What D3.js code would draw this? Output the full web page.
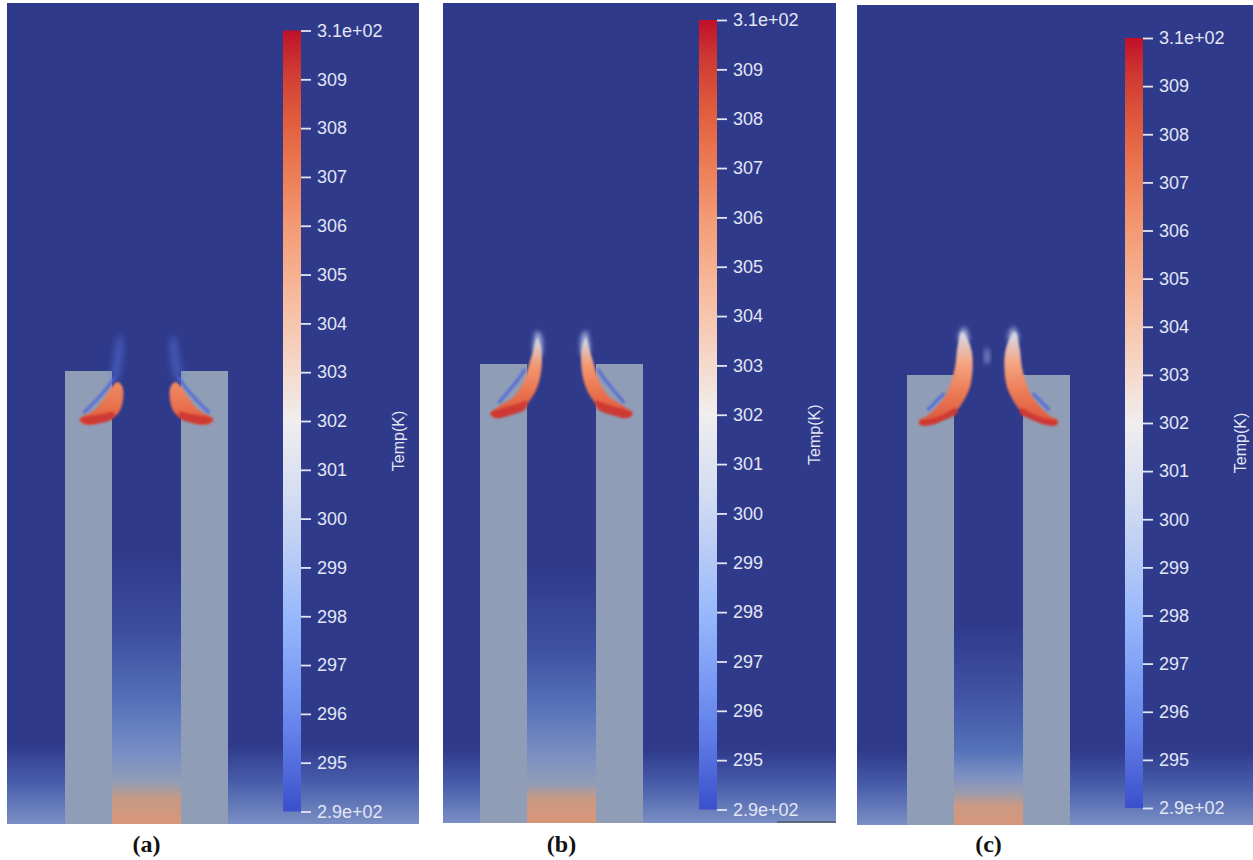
<!DOCTYPE html>
<html>
<head>
<meta charset="utf-8">
<script src="https://cdn.jsdelivr.net/npm/d3@7"></script>
<style>
  body { margin: 0; background: #ffffff; }
  svg { display: block; }
  .tick-label { font-family: "Liberation Sans", Arial, sans-serif; font-size: 18px; fill: #e2e6f4; }
  .bar-title { font-family: "Liberation Sans", Arial, sans-serif; font-size: 16px; fill: #e2e6f4; }
  .panel-label { font-family: "Liberation Serif", "DejaVu Serif", serif; font-weight: bold; font-size: 24px; fill: #111; }
</style>
</head>
<body>
<svg id="fig" width="1253" height="860"></svg>
<script>
"use strict"

// ---- data ----
const panelLabels = ["(a)", "(b)", "(c)"];
const tempRange = [294.0, 310.0];          // colour bar min / max (K)
const tickValues = d3.range(295, 310);     // 295 ... 309
const barTitle = "Temp(K)";

// the two columns, x in px-sized units from the middle of the gap
const columns = [[-81.5, -34.5], [34.5, 81.5]];

// vertical temperature profiles, [height relative to column top, temp]
const gapProfiles = [
    [[-185, 294.0], [-260, 295.3], [-330, 297.0], [-385, 299.0], [-410, 302.0], [-428, 305.0], [-453, 306.3]],
    [[-205, 294.0], [-285, 295.5], [-340, 297.0], [-395, 299.5], [-420, 302.0], [-434, 305.0], [-459, 306.3]],
    [[-250, 294.0], [-320, 295.6], [-375, 297.0], [-402, 299.5], [-418, 302.5], [-430, 305.2], [-450, 306.0]]
];
const bandProfiles = [
    [[-374, 294.0], [-410, 296.0], [-453, 299.0]],
    [[-385, 294.0], [-420, 296.0], [-459, 299.0]],
    [[-375, 294.0], [-410, 296.0], [-450, 299.0]]
];
const columnTemp = 302.0;

// left-hand plume outlines (right-hand one is the mirror image)
const plumeBodies = [
    [[-65, -47], [-52, -39], [-42, -27], [-35, -16], [-29, -11], [-24, -16], [-24, -32], [-29, -43], [-40, -49], [-54, -53], [-65, -52]],
    [[-24.5, 26], [-21, 18], [-19.5, 4], [-22, -16], [-28, -31], [-38, -43], [-51, -49], [-66, -53], [-71, -50],
     [-62, -42], [-48, -33], [-38, -18], [-32, 1], [-27, 18]],
    [[-26.5, 43], [-20.5, 35], [-16.5, 22], [-16, 5], [-18.5, -12], [-24.5, -25], [-31.5, -35], [-43.5, -43], [-58.5, -49],
     [-68, -49], [-69, -45], [-61.5, -41], [-44, -22], [-34, 5], [-31.5, 25], [-29, 38]]
];
const plumeBodyTemps = [
    [306.6, 307.3, 308.3],
    [300.5, 306.0, 307.3, 308.4],
    [300.5, 305.5, 307.2, 308.4]
];
const plumeCores = [
    [[-67, -48], [-57, -45], [-43, -43], [-33, -41], [-33, -47], [-46, -52], [-60, -53]],
    [[-71, -49], [-58, -44], [-44, -40], [-34, -37], [-36, -45], [-50, -51], [-66, -54]],
    [[-69, -46], [-58, -44], [-44, -39], [-33, -33], [-31, -38], [-44, -45], [-58, -50], [-68, -50]]
];
const coreTemp = 309.3;
const plumeStreaks = [
    [[-62, -41], [-52, -31], [-42, -20], [-32, -7]],
    [[-62, -38], [-52, -26], [-43, -15], [-37, -6]],
    [[-60, -34], [-52, -26], [-45, -19]]
];
const streakTemp = 294.8;
const plumeWisps = [
    [[-35, -6], [-33, 12], [-30, 30], [-26, 36], [-23, 24], [-25, 6], [-28, -8]],
    [[-28, 14], [-27, 26], [-25, 33], [-21, 30], [-19, 18], [-21, 8]],
    [[-30, 36], [-28, 44], [-25, 48], [-21, 43], [-20, 34]]
];
const wispTemps = [295.4, 300.2, 300.2];
// small lone wisp on the axis in (c)
const centreWisps = [[], [], [[-3, 12], [-3.5, 22], [-1.5, 28], [0.5, 22], [0, 12]]];

// ---- layout (pixels) ----
const panelLayout = [
    {x0: 7,   x1: 419,  y0: 3, y1: 824, cx: 146.5, top: 371, bar: {x: 283,  top: 30.5, bottom: 811.5}},
    {x0: 443, x1: 836,  y0: 3, y1: 823, cx: 561.5, top: 364, bar: {x: 699,  top: 20,   bottom: 809.5}},
    {x0: 857, x1: 1253, y0: 5, y1: 825, cx: 988.5, top: 375, bar: {x: 1125, top: 38,   bottom: 808}}
];
const barWidth = 18;
const labelBaseline = 852;
const wispOpacity = [0.45, 0.75, 0.75];

// rendered field colours (the 3-D view is shaded darker than the bar)
const fieldColor = d3.scaleLinear()
    .domain([294, 295.5, 297, 299, 302, 304.5, 306.5])
    .range(["#2f3a8b", "#3f51a2", "#5571b9", "#7a8fc4", "#909db6", "#c09a8a", "#dc9676"])
    .interpolate(d3.interpolateLab)
    .clamp(true);

// colour bar map (cool to warm)
const barColor = d3.scaleLinear()
    .domain([294, 296, 298, 300, 302, 304, 306, 308, 310])
    .range(["#3a50cc", "#6a8df0", "#98b8fc", "#cbd8f2", "#f0eeee", "#f7c6ac", "#f39a74", "#e4623f", "#c0102a"])
    .interpolate(d3.interpolateLab)
    .clamp(true);

function sciLabel(v) {
    const [m, e] = d3.format(".1e")(v).split("e");
    return `${m}e${e[0]}${e.slice(1).padStart(2, "0")}`;
}

const svg = d3.select("#fig");
const defs = svg.append("defs");

[["soft", 1.2], ["haze", 2.4], ["mist", 3.2]].forEach(([id, s]) => {
    defs.append("filter")
        .attr("id", id)
        .attr("x", "-50%").attr("y", "-50%")
        .attr("width", "200%").attr("height", "200%")
        .append("feGaussianBlur")
        .attr("stdDeviation", s);
});

const closedLine = d3.line().curve(d3.curveCatmullRomClosed.alpha(0.5));
const openLine = d3.line().curve(d3.curveCatmullRom.alpha(0.5));
const mirror = pts => pts.map(([x, y]) => [-x, y]);

function verticalGradient(id, profile, yScale) {
    const y1 = yScale(profile[0][0]);
    const y2 = yScale(profile[profile.length - 1][0]);
    const g = defs.append("linearGradient")
        .attr("id", id)
        .attr("gradientUnits", "userSpaceOnUse")
        .attr("x1", 0).attr("x2", 0)
        .attr("y1", y1).attr("y2", y2);
    g.selectAll("stop")
        .data(profile)
        .enter().append("stop")
            .attr("offset", d => (yScale(d[0]) - y1) / (y2 - y1))
            .attr("stop-color", d => fieldColor(d[1]));
    return y1;
}

panelLayout.forEach((p, i) => {
    // scales: field units are ~1px, origin at gap centre / column top
    const xScale = d3.scaleLinear().domain([0, 100]).range([p.cx, p.cx + 100]);
    const yScale = d3.scaleLinear().domain([0, 100]).range([p.top, p.top - 100]);
    const toPx = pts => pts.map(([x, y]) => [xScale(x), yScale(y)]);

    defs.append("clipPath").attr("id", `clip${i}`)
        .append("rect")
        .attr("x", p.x0).attr("y", p.y0)
        .attr("width", p.x1 - p.x0).attr("height", p.y1 - p.y0);

    const panel = svg.append("g").attr("clip-path", `url(#clip${i})`);

    // background
    panel.append("rect")
        .attr("x", p.x0).attr("y", p.y0)
        .attr("width", p.x1 - p.x0).attr("height", p.y1 - p.y0)
        .attr("fill", fieldColor(tempRange[0]));

    // warm band along the floor
    const bandTop = verticalGradient(`band${i}`, bandProfiles[i], yScale);
    panel.append("rect")
        .attr("x", p.x0).attr("y", bandTop)
        .attr("width", p.x1 - p.x0).attr("height", p.y1 - bandTop)
        .attr("fill", `url(#band${i})`);

    // gap between the columns
    const gapTop = verticalGradient(`gap${i}`, gapProfiles[i], yScale);
    panel.append("rect")
        .attr("x", xScale(columns[0][1])).attr("y", gapTop)
        .attr("width", xScale(columns[1][0]) - xScale(columns[0][1]))
        .attr("height", p.y1 - gapTop)
        .attr("fill", `url(#gap${i})`);

    // columns
    panel.selectAll(".column")
        .data(columns)
        .enter().append("rect")
            .attr("class", "column")
            .attr("x", d => xScale(d[0]))
            .attr("y", yScale(0))
            .attr("width", d => xScale(d[1]) - xScale(d[0]))
            .attr("height", p.y1 - yScale(0))
            .attr("fill", fieldColor(columnTemp));

    // plume body gradient
    const bg = defs.append("linearGradient")
        .attr("id", `body${i}`)
        .attr("x1", 0).attr("x2", 0).attr("y1", 0).attr("y2", 1);
    const temps = plumeBodyTemps[i];
    bg.selectAll("stop")
        .data(temps)
        .enter().append("stop")
            .attr("offset", (d, k) => k / (temps.length - 1))
            .attr("stop-color", d => barColor(d));

    [d => d, mirror].forEach(side => {
        panel.append("path")
            .attr("d", closedLine(toPx(side(plumeWisps[i]))))
            .attr("fill", barColor(wispTemps[i]))
            .attr("opacity", wispOpacity[i])
            .attr("filter", i === 0 ? "url(#mist)" : "url(#haze)");
        panel.append("path")
            .attr("d", closedLine(toPx(side(plumeBodies[i]))))
            .attr("fill", `url(#body${i})`)
            .attr("filter", "url(#soft)");
        panel.append("path")
            .attr("d", openLine(toPx(side(plumeStreaks[i]))))
            .attr("fill", "none")
            .attr("stroke", barColor(streakTemp))
            .attr("stroke-width", 3.2)
            .attr("stroke-linecap", "round")
            .attr("opacity", 0.85)
            .attr("filter", "url(#soft)");
        panel.append("path")
            .attr("d", closedLine(toPx(side(plumeCores[i]))))
            .attr("fill", barColor(coreTemp))
            .attr("opacity", 0.9)
            .attr("filter", "url(#soft)");
    });

    if (centreWisps[i].length) {
        panel.append("path")
            .attr("d", closedLine(toPx(centreWisps[i])))
            .attr("fill", barColor(299.5))
            .attr("opacity", 0.6)
            .attr("filter", "url(#haze)");
    }

    // colour bar
    const tScale = d3.scaleLinear().domain(tempRange).range([p.bar.bottom, p.bar.top]);
    const cg = defs.append("linearGradient")
        .attr("id", `cbar${i}`)
        .attr("gradientUnits", "userSpaceOnUse")
        .attr("x1", 0).attr("x2", 0)
        .attr("y1", p.bar.bottom).attr("y2", p.bar.top);
    cg.selectAll("stop")
        .data(d3.range(0, 1.0001, 0.05))
        .enter().append("stop")
            .attr("offset", d => d)
            .attr("stop-color", d => barColor(tempRange[0] + d * (tempRange[1] - tempRange[0])));

    panel.append("rect")
        .attr("x", p.bar.x).attr("y", p.bar.top)
        .attr("width", barWidth).attr("height", p.bar.bottom - p.bar.top)
        .attr("fill", `url(#cbar${i})`);

    const axis = d3.axisRight(tScale)
        .tickValues([tempRange[0], ...tickValues, tempRange[1]])
        .tickFormat(v => (v === tempRange[0] || v === tempRange[1]) ? sciLabel(v) : d3.format("d")(v))
        .tickSize(10)
        .tickPadding(6);

    const ax = panel.append("g")
        .attr("transform", `translate(${p.bar.x + barWidth}, 0)`)
        .call(axis);
    ax.select(".domain").remove();
    ax.selectAll(".tick line").attr("stroke", "#e2e6f4").attr("stroke-width", 1.8);
    ax.selectAll(".tick text")
        .attr("class", "tick-label")
        .attr("font-family", null).attr("font-size", null)
        .attr("fill", null);

    panel.append("text")
        .attr("class", "bar-title")
        .attr("text-anchor", "middle")
        .attr("transform", `translate(${p.bar.x + barWidth + 97}, ${(p.bar.top + p.bar.bottom) / 2 + 20}) rotate(-90)`)
        .attr("dy", "0.35em")
        .text(barTitle);

    // panel caption
    svg.append("text")
        .attr("class", "panel-label")
        .attr("x", p.cx)
        .attr("y", labelBaseline)
        .attr("text-anchor", "middle")
        .text(panelLabels[i]);
});

// thin dark edge seen under the bar of (b)
svg.append("line")
    .attr("x1", 777).attr("x2", panelLayout[1].x1)
    .attr("y1", panelLayout[1].y1 - 1).attr("y2", panelLayout[1].y1 - 1)
    .attr("stroke", "#555a66").attr("stroke-width", 1.5);
</script>
</body>
</html>
